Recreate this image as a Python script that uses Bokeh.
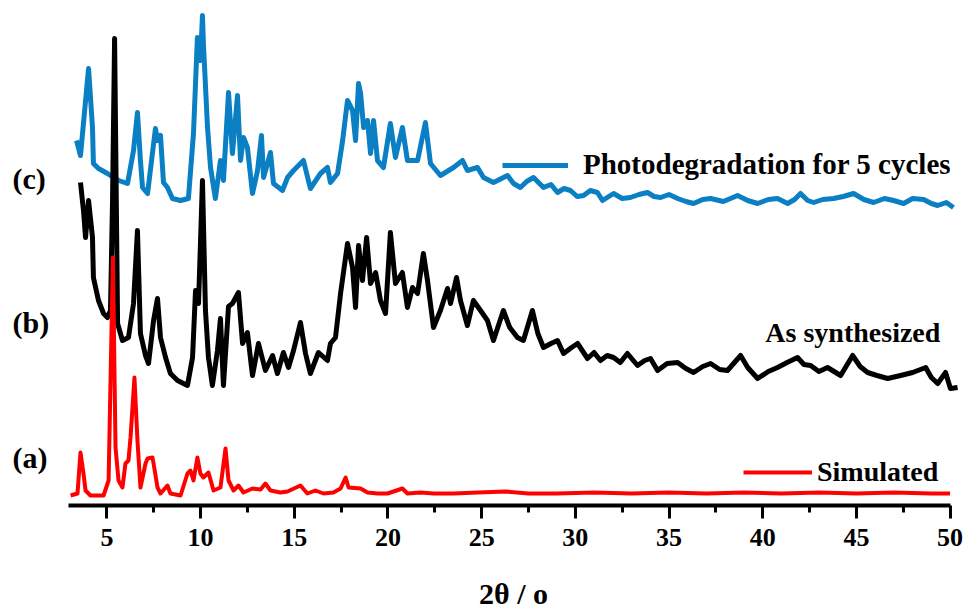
from bokeh.plotting import figure
from bokeh.layouts import row
from bokeh.models import Range1d, FixedTicker, Legend, LegendItem, Label
from bokeh.embed import file_html
from bokeh.resources import INLINE

# ---- data (2theta in degrees, stacked intensity in arbitrary units) ----
# (c) Photodegradation for 5 cycles
c_x = [3.38, 3.59, 4.02, 4.23, 4.28, 4.55, 5.03, 5.35, 5.62, 6.10, 6.42, 6.63, 6.79, 6.90, 7.17,
       7.59, 7.70, 7.86, 8.02, 8.23, 8.50, 8.93, 9.35, 9.62, 9.83, 9.99, 10.10, 10.15, 10.37, 10.53,
       10.79, 11.06, 11.22, 11.49, 11.70, 11.97, 12.13, 12.29, 12.50, 12.77, 13.04, 13.25, 13.36,
       13.73, 13.89, 14.37, 14.64, 14.96, 15.33, 15.49, 15.86, 16.40, 16.77, 16.93, 17.31, 17.58,
       17.84, 18.11, 18.27, 18.43, 18.54, 18.70, 18.91, 19.07, 19.23, 19.44, 19.76, 20.13, 20.40,
       20.77, 21.04, 21.58, 22.00, 22.27, 22.80, 23.50, 23.98, 24.24, 24.78, 25.10, 25.63, 26.38,
       26.70, 27.07, 27.40, 27.77, 28.30, 28.70, 29.05, 29.40, 29.74, 30.10, 30.44, 30.80, 31.18,
       31.45, 32.04, 32.50, 32.94, 33.40, 33.85, 34.20, 34.55, 35.00, 35.46, 35.90, 36.31, 36.80,
       37.22, 37.90, 38.66, 39.20, 39.73, 40.30, 40.79, 41.33, 41.70, 42.02, 42.40, 42.72, 43.20,
       43.78, 44.30, 44.85, 45.40, 45.92, 46.50, 46.99, 47.52, 48.00, 48.59, 49.00, 49.34, 49.80,
       50.18]
c_y = [365, 350, 437, 378, 342, 337, 332, 328, 325, 322, 355, 393, 345, 318, 312,
       377, 365, 370, 323, 318, 307, 305, 307, 372, 468, 445, 490, 462, 378, 338,
       307, 345, 325, 413, 352, 410, 345, 368, 358, 312, 335, 370, 328,
       353, 322, 315, 328, 335, 342, 345, 317, 332, 338, 323, 332, 365,
       405, 395, 365, 422, 412, 378, 385, 352, 385, 345, 338, 382, 348,
       378, 345, 345, 383, 342, 330, 338, 345, 335, 338, 328, 323, 330,
       322, 318, 324, 328, 318, 321, 313, 317, 315, 309, 310, 315, 313,
       305, 312, 307, 308, 311, 313, 309, 308, 311, 307, 304, 302, 306,
       307, 304, 310, 305, 302, 306, 307, 302, 306, 312, 305, 303, 306,
       307, 309, 312, 306, 303, 307, 305, 302, 307, 306, 302, 300, 303,
       298]

# (b) As synthesized
b_x = [3.59, 3.75, 3.86, 4.02, 4.23, 4.28, 4.55, 4.82, 5.03, 5.19, 5.30, 5.41, 5.57, 5.83, 6.15,
       6.42, 6.63, 6.79, 7.06, 7.22, 7.49, 7.70, 7.86, 8.13, 8.39, 8.77, 9.30, 9.57, 9.73, 9.89,
       10.10, 10.26, 10.42, 10.63, 10.90, 11.06, 11.22, 11.49, 11.70, 12.02, 12.24, 12.50, 12.77,
       13.09, 13.46, 13.84, 14.10, 14.42, 14.69, 14.96, 15.33, 15.60, 15.86, 16.29, 16.77, 16.93,
       17.20, 17.47, 17.84, 18.11, 18.27, 18.43, 18.64, 18.86, 19.07, 19.34, 19.60, 19.87, 20.13,
       20.40, 20.77, 21.04, 21.31, 21.58, 21.89, 22.11, 22.43, 22.80, 23.18, 23.34, 23.66, 23.87,
       24.24, 24.56, 24.94, 25.31, 25.63, 26.16, 26.50, 26.91, 27.23, 27.71, 28.00, 28.30, 28.70,
       29.05, 29.37, 29.80, 30.12, 30.65, 31.00, 31.34, 31.70, 32.04, 32.40, 32.78, 33.32, 33.70,
       34.01, 34.39, 34.90, 35.46, 35.90, 36.31, 36.80, 37.22, 37.70, 38.12, 38.82, 39.20, 39.73,
       40.30, 40.79, 41.30, 41.86, 42.20, 42.56, 43.00, 43.46, 44.16, 44.80, 45.20, 45.60, 46.10,
       46.67, 47.36, 48.00, 48.70, 49.00, 49.34, 49.76, 50.02, 50.40]
b_y = [323, 295, 268, 305, 268, 228, 205, 192, 188, 195, 305, 467, 182, 165, 168,
       202, 275, 172, 150, 142, 185, 207, 168, 148, 132, 125, 120, 148, 215, 202,
       325, 195, 148, 120, 155, 187, 120, 199, 202, 213, 162, 173, 130,
       162, 135, 150, 132, 153, 138, 155, 183, 152, 132, 153, 145, 162,
       168, 212, 262, 238, 198, 260, 225, 268, 222, 233, 205, 192, 273,
       222, 233, 198, 218, 212, 252, 225, 178, 195, 217, 202, 228, 205,
       180, 205, 195, 185, 165, 195, 178, 168, 165, 195, 172, 158, 162,
       165, 152, 158, 162, 147, 153, 145, 150, 148, 143, 152, 140, 145,
       147, 135, 142, 143, 137, 133, 139, 142, 136, 135, 150, 138, 127,
       134, 138, 143, 148, 141, 140, 134, 138, 130, 150, 139, 133, 130,
       127, 130, 133, 138, 128, 122, 133, 117, 118]

# (a) Simulated
a_x = [3.06, 3.43, 3.59, 3.75, 3.86, 4.12, 4.82, 5.09, 5.32, 5.46, 5.62, 5.83, 5.99, 6.15, 6.26,
       6.47, 6.63, 6.79, 7.06, 7.17, 7.43, 7.49, 7.70, 7.86, 8.23, 8.39, 8.93, 9.30, 9.46, 9.62,
       9.83, 9.99, 10.15, 10.42, 10.69, 11.06, 11.33, 11.49, 11.76, 12.02, 12.29, 12.77, 13.20,
       13.46, 13.73, 14.26, 14.64, 15.33, 15.70, 16.13, 16.56, 17.09, 17.47, 17.74, 17.90, 18.54,
       18.91, 19.44, 19.98, 20.77, 21.04, 21.74, 22.43, 23.50, 24.80, 26.30, 27.50, 29.00, 31.00,
       33.00, 35.00, 37.00, 39.00, 41.00, 43.00, 45.00, 47.00, 49.00, 50.00]
a_y = [10, 12, 53, 32, 15, 10, 10, 25, 248, 58, 25, 18, 42, 45, 68,
       128, 65, 18, 42, 47, 48, 42, 18, 12, 20, 12, 10, 32, 35, 25,
       48, 32, 28, 33, 15, 18, 57, 25, 15, 20, 13, 17, 16,
       22, 15, 13, 14, 20, 12, 15, 12, 13, 17, 28, 18, 17,
       13, 12, 12, 17, 12, 13, 12, 12, 13, 14, 12, 12, 13,
       12, 13, 12, 13, 12, 13, 12, 13, 12, 12]

major_ticks = [5, 10, 15, 20, 25, 30, 35, 40, 45, 50]
minor_ticks = [7.5, 12.5, 17.5, 22.5, 27.5, 32.5, 37.5, 42.5, 47.5]
panel_labels = ["(c)", "(b)", "(a)"]
panel_label_y = [327, 183, 48]

BLUE = "#0b7fc3"
RED = "#ff0000"
FONT = "Liberation Serif"

y_rng = Range1d(0, 505)

# narrow strip on the left carrying the panel letters
side = figure(width=68, height=612, x_range=Range1d(0, 68), y_range=y_rng,
              output_backend="svg", toolbar_location=None, x_axis_location=None,
              y_axis_location=None, min_border_left=0, min_border_right=0,
              min_border_top=0, min_border_bottom=107)
side.outline_line_color = None
side.xgrid.visible = False
side.ygrid.visible = False
for txt, yy in zip(panel_labels, panel_label_y):
    side.add_layout(Label(x=12, y=yy, text=txt, text_font=FONT, text_font_style="bold",
                          text_font_size="30px", text_baseline="middle", text_align="left",
                          text_color="black"))

p = figure(width=901, height=612, x_range=Range1d(2.95, 50.45), y_range=y_rng,
           output_backend="svg", toolbar_location=None, y_axis_location=None,
           min_border_left=0, min_border_right=11, min_border_top=0, min_border_bottom=107)
p.outline_line_color = None
p.xgrid.visible = False
p.ygrid.visible = False

r_c = p.line(c_x, c_y, line_color=BLUE, line_width=5, line_join="round")
r_b = p.line(b_x, b_y, line_color="black", line_width=5, line_join="round")
r_a = p.line(a_x, a_y, line_color=RED, line_width=4, line_join="round")

ax = p.xaxis[0]
ax.ticker = FixedTicker(ticks=major_ticks, minor_ticks=minor_ticks)
ax.bounds = (2.95, 50)
ax.axis_line_width = 4
ax.axis_line_color = "black"
ax.major_tick_line_width = 3
ax.major_tick_out = 13
ax.major_tick_in = 0
ax.minor_tick_line_width = 3
ax.minor_tick_out = 7
ax.minor_tick_in = 0
ax.major_label_text_font = FONT
ax.major_label_text_font_style = "bold"
ax.major_label_text_font_size = "26px"
ax.major_label_text_color = "black"
ax.major_label_standoff = 10
ax.axis_label = "2θ / o"
ax.axis_label_text_font = FONT
ax.axis_label_text_font_style = "bold"
ax.axis_label_text_font_size = "30px"
ax.axis_label_text_color = "black"
ax.axis_label_standoff = 28


def mk_legend(label, renderer, loc, glyph_w, standoff, size):
    return Legend(items=[LegendItem(label=label, renderers=[renderer])], location=loc,
                  border_line_color=None, background_fill_alpha=0, padding=0, margin=0,
                  spacing=0, glyph_width=glyph_w, glyph_height=30, label_height=30,
                  label_standoff=standoff, label_text_font=FONT, label_text_font_style="bold",
                  label_text_font_size=size, label_text_color="black")


p.add_layout(mk_legend("Photodegradation for 5 cycles", r_c, (434, 324), 66, 15, "29px"))
p.add_layout(mk_legend("Simulated", r_a, (675, 17), 69, 5, "28px"))

p.add_layout(Label(x=40.14, y=173, text="As synthesized", text_font=FONT, text_font_style="bold",
                   text_font_size="28px", text_baseline="middle", text_align="left",
                   text_color="black"))

layout = row(side, p, spacing=0)
open("out.html", "w").write(file_html(layout, INLINE))
